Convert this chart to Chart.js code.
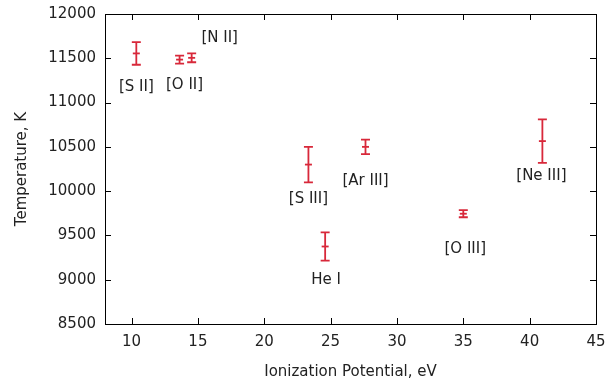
<!DOCTYPE html>
<html>
<head>
<meta charset="utf-8">
<script src="https://cdn.jsdelivr.net/npm/chart.js@4/dist/chart.umd.min.js"></script>
<style>
  html, body { margin: 0; padding: 0; background: #fff; }
  #wrap { width: 607px; height: 381px; }
</style>
</head>
<body>
<div id="wrap"><canvas id="c"></canvas></div>
<script>
// data
const ions = ['[S II]', '[O II]', '[N II]', '[S III]', 'He I', '[Ar III]', '[O III]', '[Ne III]'];
const ionizationEv = [10.36, 13.62, 14.53, 23.33, 24.59, 27.63, 35.0, 40.96];
const temperatureK = [11555, 11485, 11505, 10300, 9375, 10500, 9745, 10565];
const temperatureErr = [128, 45, 50, 200, 160, 82, 40, 245];
const xTicks = [10, 15, 20, 25, 30, 35, 40, 45];
const yTicks = [8500, 9000, 9500, 10000, 10500, 11000, 11500, 12000];

// where each label sits relative to its point, in px
const labelDx = [0, 5, 28, 0, 1, 0, 2, -1];
const labelDy = [34, 25, -20, 35, 34, 34, 35, 35];

const RED = '#d8283a';
const FONT = '"DejaVu Sans", sans-serif';

const points = ionizationEv.map((x, i) => ({ x: x, y: temperatureK[i] }));

// error bars, labels, frame with inward ticks
const extras = {
    id: 'extras',
    afterDatasetsDraw(chart) {
        const ctx = chart.ctx;
        const xs = chart.scales.x, ys = chart.scales.y;
        const a = chart.chartArea;
        ctx.save();

        // error bars
        ctx.strokeStyle = RED;
        ctx.lineWidth = 1.8;
        points.forEach((p, i) => {
            const px = xs.getPixelForValue(p.x);
            const top = ys.getPixelForValue(p.y + temperatureErr[i]);
            const bot = ys.getPixelForValue(p.y - temperatureErr[i]);
            ctx.beginPath();
            ctx.moveTo(px, top); ctx.lineTo(px, bot);
            ctx.moveTo(px - 4.5, top); ctx.lineTo(px + 4.5, top);
            ctx.moveTo(px - 4.5, bot); ctx.lineTo(px + 4.5, bot);
            ctx.stroke();
        });

        // labels
        ctx.fillStyle = '#222';
        ctx.font = '15px ' + FONT;
        ctx.textAlign = 'center';
        ctx.textBaseline = 'middle';
        points.forEach((p, i) => {
            const px = xs.getPixelForValue(p.x) + labelDx[i];
            const py = ys.getPixelForValue(p.y) + labelDy[i];
            ctx.fillText(ions[i], px, py);
        });

        // frame
        ctx.strokeStyle = '#000';
        ctx.lineWidth = 1;
        ctx.strokeRect(Math.round(a.left) + 0.5, Math.round(a.top) + 0.5,
            Math.round(a.right - a.left), Math.round(a.bottom - a.top));

        // inward ticks on all four sides
        ctx.beginPath();
        xTicks.forEach(v => {
            const px = Math.round(xs.getPixelForValue(v)) + 0.5;
            ctx.moveTo(px, a.bottom); ctx.lineTo(px, a.bottom - 6);
            ctx.moveTo(px, a.top); ctx.lineTo(px, a.top + 6);
        });
        yTicks.forEach(v => {
            const py = Math.round(ys.getPixelForValue(v)) + 0.5;
            ctx.moveTo(a.left, py); ctx.lineTo(a.left + 6, py);
            ctx.moveTo(a.right, py); ctx.lineTo(a.right - 6, py);
        });
        ctx.stroke();
        ctx.restore();
    }
};

new Chart(document.getElementById('c'), {
    type: 'scatter',
    data: {
        datasets: [{
            label: 'Temperature',
            data: points,
            pointStyle: 'line',
            radius: 3.5,
            borderWidth: 1.8,
            borderColor: RED,
            backgroundColor: RED
        }]
    },
    options: {
        responsive: true,
        maintainAspectRatio: false,
        animation: false,
        layout: { padding: { top: 0, right: 0, left: 0, bottom: 0 } },
        plugins: {
            legend: { display: false },
            tooltip: { enabled: false }
        },
        scales: {
            x: {
                type: 'linear',
                min: 8,
                max: 45,
                afterBuildTicks: s => { s.ticks = xTicks.map(v => ({ value: v })); },
                afterFit: s => { s.height = 57; s.paddingRight = 11; s.paddingLeft = 0; },
                grid: { display: false, drawTicks: false },
                border: { display: false },
                ticks: {
                    color: '#222', padding: 9,
                    font: { family: FONT, size: 15 },
                    callback: v => String(v)
                },
                title: {
                    display: true,
                    text: 'Ionization Potential, eV',
                    color: '#222',
                    padding: { top: 4, bottom: 0 },
                    font: { family: FONT, size: 15 }
                }
            },
            y: {
                min: 8500,
                max: 12000,
                afterBuildTicks: s => { s.ticks = yTicks.map(v => ({ value: v })); },
                afterFit: s => { s.width = 105; s.paddingTop = 14; s.paddingBottom = 0; },
                grid: { display: false, drawTicks: false },
                border: { display: false },
                ticks: {
                    color: '#222', padding: 9,
                    font: { family: FONT, size: 15 },
                    callback: v => String(v)
                },
                title: {
                    display: true,
                    text: 'Temperature, K',
                    color: '#222',
                    padding: { top: 13, bottom: 0 },
                    font: { family: FONT, size: 15 }
                }
            }
        }
    },
    plugins: [extras]
});
</script>
</body>
</html>
